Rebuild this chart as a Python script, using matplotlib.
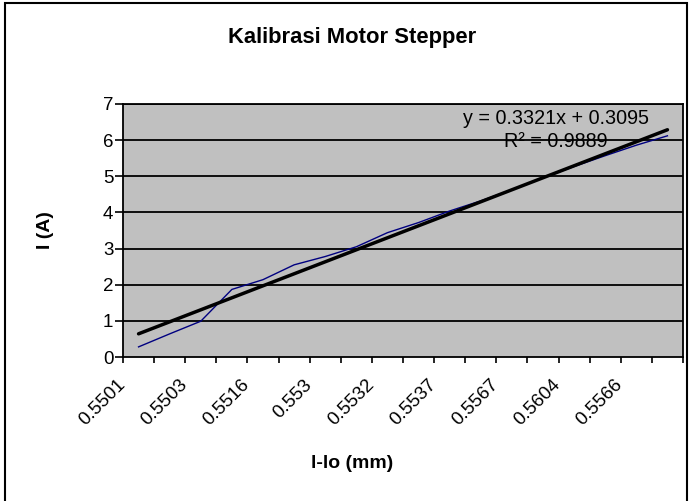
import matplotlib
matplotlib.use("Agg")
import matplotlib.pyplot as plt
from matplotlib.transforms import ScaledTranslation
from matplotlib.patches import Rectangle
import numpy as np

plt.rcParams['font.family'] = ['Liberation Sans', 'DejaVu Sans']

# ---- data ----
tick_labels = ['0.5501', '0.5503', '0.5516', '0.553', '0.5532',
               '0.5537', '0.5567', '0.5604', '0.5566']
current = [0.28, 0.64, 0.99, 1.87, 2.14, 2.55, 2.78, 3.05, 3.44,
           3.72, 4.04, 4.32, 4.63, 4.96, 5.27, 5.57, 5.86, 6.12]
slope = 0.3321
intercept = 0.3095
r2 = 0.9889

n = len(current)
xpos = np.arange(n)

fig = plt.figure(figsize=(6.9, 5.01), dpi=100)
W, H = 690, 501
ax = fig.add_axes([123 / W, 1 - 357 / H, (683 - 123) / W, (357 - 104) / H])
ax.set_facecolor('#C0C0C0')

# gridlines
for g in range(1, 8):
    ax.axhline(g, color='black', lw=1.3, zorder=1)

ax.plot(xpos, current, color='#000080', lw=1.0, zorder=3)
xt = np.array([0, n - 1])
ax.plot(xt, slope * (xt + 1) + intercept, color='black', lw=2.5, zorder=4,
        solid_capstyle='round')

ax.set_xlim(-0.5, n - 0.5)
ax.set_ylim(0, 7)
ax.set_yticks(range(0, 8))
ax.tick_params(axis='y', length=5.5, width=1.2, direction='out', pad=1.5,
               labelsize=13.5)

ax.set_xticks(xpos[::2])
ax.set_xticklabels(tick_labels, rotation=45, ha='right', va='top')
ax.set_xticks(np.arange(-0.5, n, 1.0), minor=True)
ax.tick_params(axis='x', which='major', length=0, pad=14, labelsize=13.5)
ax.tick_params(axis='x', which='minor', length=4, width=1.2, direction='out')
off = ScaledTranslation(-10 / 100, 0, fig.dpi_scale_trans)
for lab in ax.get_xticklabels():
    lab.set_transform(lab.get_transform() + off)

for s in ax.spines.values():
    s.set_color('black')
    s.set_linewidth(1.3)

ax.text(0.773, 0.941, 'y = %.4fx + %.4f' % (slope, intercept),
        transform=ax.transAxes, ha='center', va='center', fontsize=14.2, zorder=5)
ax.text(0.773, 0.850, 'R\u00b2 = %.4f' % r2,
        transform=ax.transAxes, ha='center', va='center', fontsize=14.2, zorder=5)

fig.text(352 / W, 1 - 37 / H, 'Kalibrasi Motor Stepper', ha='center',
         va='center', fontsize=15.8, fontweight='bold')
fig.text(46 / W, 1 - 230 / H, 'I (A)', ha='center', va='center',
         rotation=90, fontsize=14, fontweight='bold')
fig.text(352 / W, 1 - 464 / H, 'l-lo (mm)', ha='center', va='center',
         fontsize=14, fontweight='bold')

fig.patches.append(Rectangle((5 / W, -0.1), (687 - 5) / W, 1.1 - 3 / H,
                             transform=fig.transFigure, fill=False,
                             edgecolor='black', lw=1.5))

fig.savefig('out.png', dpi=100)
